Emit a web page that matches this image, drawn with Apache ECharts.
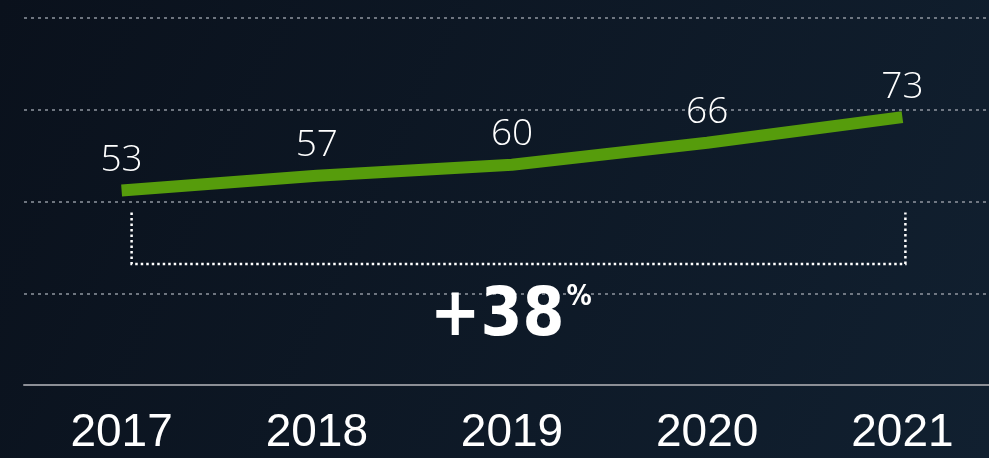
<!DOCTYPE html>
<html>
<head>
<meta charset="utf-8">
<script src="https://cdn.jsdelivr.net/npm/echarts@6/dist/echarts.min.js"></script>
<style>
  html, body { margin: 0; padding: 0; background: #0c1420; }
  #chart { width: 989px; height: 458px; }
</style>
</head>
<body>
<div id="chart"></div>
<script>
// data
const years = ["2017", "2018", "2019", "2020", "2021"];
const values = [53, 57, 60, 66, 73];
const growthLabel = "+38";
// bracket spans first to last year, drawn between these two y values
const bracketFrom = [0, 4];
const bracketLevels = [47, 33];

const chart = echarts.init(document.getElementById("chart"));

const option = {
  backgroundColor: {
    type: "linear", x: 0, y: 0, x2: 1, y2: 1,
    colorStops: [
      { offset: 0, color: "#0a111c" },
      { offset: 1, color: "#112030" },
    ],
  },
  animation: false,
  grid: { left: 24, width: 976, top: 18, bottom: 73, outerBoundsMode: "none" },
  xAxis: {
    type: "category",
    data: years,
    boundaryGap: true,
    axisLine: { lineStyle: { color: "#8c8f96", width: 2 } },
    axisTick: { show: false },
    axisLabel: {
      color: "#ffffff",
      fontFamily: "Liberation Sans",
      fontSize: 46,
      margin: 25,
    },
  },
  yAxis: {
    type: "value",
    min: 0,
    max: 100,
    interval: 25,
    axisLabel: { show: false },
    axisLine: { show: false },
    axisTick: { show: false },
    splitLine: {
      lineStyle: { color: "#9096a0", width: 1.5, type: [3, 4] },
    },
  },
  series: [
    {
      name: "value",
      type: "line",
      data: values,
      symbol: "circle",
      symbolSize: 1,
      showSymbol: true,
      itemStyle: { color: "rgba(0,0,0,0)" },
      lineStyle: { color: "#569c0c", width: 12, cap: "butt" },
      label: {
        show: true,
        position: "top",
        distance: 11,
        color: "#ffffff",
        fontFamily: "Open Sans",
        fontWeight: 300,
        fontSize: 37,
      },
      z: 3,
    },
    {
      name: "bracket",
      type: "custom",
      data: [0],
      silent: true,
      renderItem(params, api) {
        const a = api.coord([bracketFrom[0], bracketLevels[0]]);
        const b = api.coord([bracketFrom[1], bracketLevels[1]]);
        const x1 = a[0] + 10;
        const x2 = b[0] + 3;
        return {
          type: "polyline",
          shape: {
            points: [[x1, a[1]], [x1, b[1]], [x2, b[1]], [x2, a[1]]],
          },
          style: {
            stroke: "#ffffff",
            lineWidth: 2.5,
            lineDash: [2.5, 3],
            fill: null,
          },
        };
      },
      z: 2,
    },
  ],
  graphic: [
    {
      type: "text",
      left: 430,
      top: 284,
      style: {
        text: "{a|" + growthLabel + "}{b|%}",
        rich: {
          a: {
            fill: "#ffffff",
            fontFamily: "DejaVu Sans Condensed",
            fontWeight: "bold",
            fontSize: 67,
            verticalAlign: "bottom",
          },
          b: {
            fill: "#ffffff",
            fontFamily: "DejaVu Sans Condensed",
            fontWeight: "bold",
            fontSize: 28,
            verticalAlign: "top",
            padding: [0, 0, 30, 2],
          },
        },
      },
      z: 10,
    },
  ],
};

chart.setOption(option);
</script>
</body>
</html>
